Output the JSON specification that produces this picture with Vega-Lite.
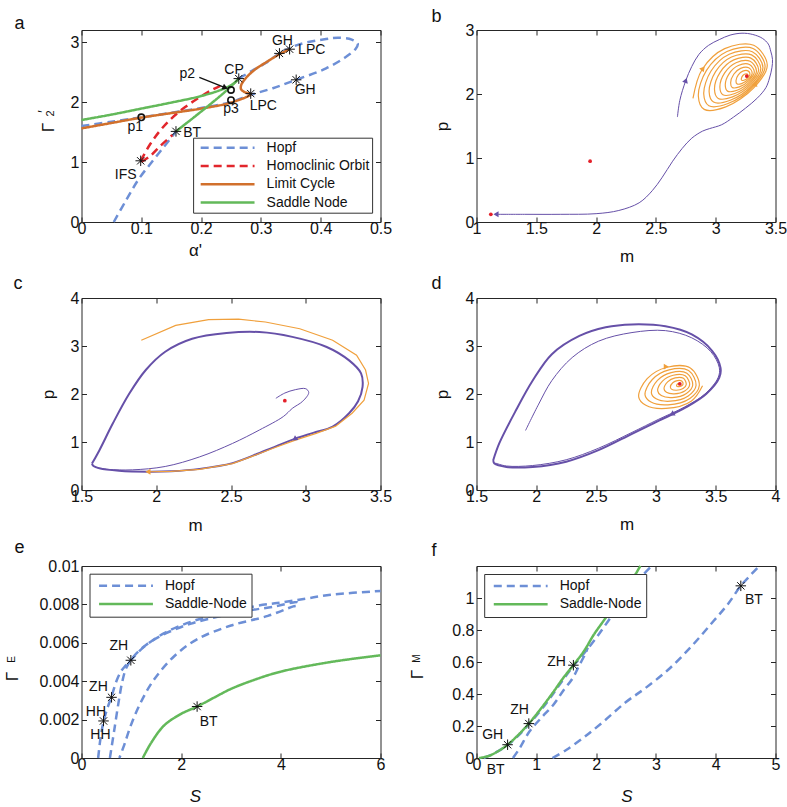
{
"$schema":"https://vega.github.io/schema/vega-lite/v6.json",
"background":"white",
"padding":{"left":2.5,"top":7,"right":2,"bottom":2},
"columns":2,
"spacing":{"row":76,"column":96},
"bounds":"flush",
"resolve":{"scale":{"x":"independent","y":"independent","color":"independent","strokeDash":"independent"},"axis":{"x":"independent","y":"independent"},"legend":{"color":"independent","strokeDash":"independent"}},
"config":{
 "font":"Liberation Sans",
 "view":{"stroke":"#262626","strokeWidth":1},
 "axis":{"grid":false,"domain":false,"ticks":true,"tickColor":"#262626","tickSize":-5,"tickWidth":1,"labelFont":"Liberation Sans","labelFontSize":16,"labelColor":"#111","titleFont":"Liberation Sans","titleFontSize":17,"titleFontWeight":"normal","titleColor":"#111","titleAlign":"center","titleBaseline":"middle","labelFlush":false,"labelOverlap":false},
 "axisBottom":{"labelPadding":3.5},
 "axisLeft":{"labelPadding":7.5},
 "legend":{"strokeColor":"#333","fillColor":"white","padding":2,"symbolType":"stroke","symbolSize":2900,"symbolStrokeWidth":2.5,"clipHeight":16,"rowPadding":2.3,"symbolOffset":4,"labelOffset":10.5,"labelFont":"Liberation Sans","labelFontSize":14,"labelColor":"#111","labelLimit":300},
 "title":{"fontSize":18,"fontWeight":"normal","anchor":"start","frame":"group","baseline":"alphabetic","color":"#111","font":"Liberation Sans"}
},
"concat":[
{
 "width":299,"height":192,
 "title":{"text":"a","dx":-67,"offset":-3.5},
 "encoding":{
  "x":{"field":"x","type":"quantitative","scale":{"domain":[0,0.5],"nice":false,"zero":false},"axis":null},
  "y":{"field":"y","type":"quantitative","scale":{"domain":[0,3.2],"nice":false,"zero":false},"axis":null}
 },
 "resolve":{"axis":{"x":"independent","y":"independent"}},
 "layer":[
  {"data":{"values":[
   {"x":0.054,"y":0,"s":"Hopf","g":"h1"},{"x":0.075,"y":0.37,"s":"Hopf","g":"h1"},{"x":0.096,"y":0.72,"s":"Hopf","g":"h1"},{"x":0.12,"y":1.03,"s":"Hopf","g":"h1"},{"x":0.14,"y":1.28,"s":"Hopf","g":"h1"},{"x":0.158,"y":1.51,"s":"Hopf","g":"h1"},
   {"x":0,"y":1.6,"s":"Hopf","g":"h2"},{"x":0.05,"y":1.67,"s":"Hopf","g":"h2"},{"x":0.1,"y":1.745,"s":"Hopf","g":"h2"},{"x":0.15,"y":1.82,"s":"Hopf","g":"h2"},{"x":0.2,"y":1.9,"s":"Hopf","g":"h2"},{"x":0.25,"y":2.0,"s":"Hopf","g":"h2"},{"x":0.283,"y":2.12,"s":"Hopf","g":"h2"},{"x":0.32,"y":2.23,"s":"Hopf","g":"h2"},{"x":0.359,"y":2.37,"s":"Hopf","g":"h2"},{"x":0.409,"y":2.56,"s":"Hopf","g":"h2"},{"x":0.442,"y":2.75,"s":"Hopf","g":"h2"},{"x":0.458,"y":2.88,"s":"Hopf","g":"h2"},{"x":0.462,"y":2.97,"s":"Hopf","g":"h2"},{"x":0.452,"y":3.04,"s":"Hopf","g":"h2"},{"x":0.43,"y":3.07,"s":"Hopf","g":"h2"},{"x":0.409,"y":3.05,"s":"Hopf","g":"h2"},{"x":0.364,"y":2.96,"s":"Hopf","g":"h2"},{"x":0.331,"y":2.81,"s":"Hopf","g":"h2"},{"x":0.308,"y":2.65,"s":"Hopf","g":"h2"},{"x":0.285,"y":2.52,"s":"Hopf","g":"h2"},{"x":0.263,"y":2.39,"s":"Hopf","g":"h2"},
   {"x":0.099,"y":1.02,"s":"Homoclinic Orbit","g":"r1"},{"x":0.115,"y":1.3,"s":"Homoclinic Orbit","g":"r1"},{"x":0.132,"y":1.53,"s":"Homoclinic Orbit","g":"r1"},{"x":0.152,"y":1.74,"s":"Homoclinic Orbit","g":"r1"},{"x":0.174,"y":1.92,"s":"Homoclinic Orbit","g":"r1"},{"x":0.196,"y":2.07,"s":"Homoclinic Orbit","g":"r1"},{"x":0.216,"y":2.19,"s":"Homoclinic Orbit","g":"r1"},{"x":0.232,"y":2.27,"s":"Homoclinic Orbit","g":"r1"},
   {"x":0.1,"y":1.0,"s":"Homoclinic Orbit","g":"r2"},{"x":0.115,"y":1.1,"s":"Homoclinic Orbit","g":"r2"},{"x":0.132,"y":1.27,"s":"Homoclinic Orbit","g":"r2"},{"x":0.152,"y":1.45,"s":"Homoclinic Orbit","g":"r2"},
   {"x":0,"y":1.56,"s":"Limit Cycle","g":"o"},{"x":0.05,"y":1.65,"s":"Limit Cycle","g":"o"},{"x":0.1,"y":1.74,"s":"Limit Cycle","g":"o"},{"x":0.15,"y":1.815,"s":"Limit Cycle","g":"o"},{"x":0.2,"y":1.89,"s":"Limit Cycle","g":"o"},{"x":0.25,"y":1.99,"s":"Limit Cycle","g":"o"},{"x":0.283,"y":2.13,"s":"Limit Cycle","g":"o"},{"x":0.274,"y":2.16,"s":"Limit Cycle","g":"o"},{"x":0.267,"y":2.21,"s":"Limit Cycle","g":"o"},{"x":0.267,"y":2.28,"s":"Limit Cycle","g":"o"},{"x":0.275,"y":2.4,"s":"Limit Cycle","g":"o"},{"x":0.29,"y":2.54,"s":"Limit Cycle","g":"o"},{"x":0.31,"y":2.67,"s":"Limit Cycle","g":"o"},{"x":0.33,"y":2.79,"s":"Limit Cycle","g":"o"},{"x":0.348,"y":2.88,"s":"Limit Cycle","g":"o"},
   {"x":0,"y":1.7,"s":"Saddle Node","g":"g1"},{"x":0.05,"y":1.79,"s":"Saddle Node","g":"g1"},{"x":0.1,"y":1.89,"s":"Saddle Node","g":"g1"},{"x":0.15,"y":1.99,"s":"Saddle Node","g":"g1"},{"x":0.2,"y":2.1,"s":"Saddle Node","g":"g1"},{"x":0.235,"y":2.21,"s":"Saddle Node","g":"g1"},{"x":0.255,"y":2.31,"s":"Saddle Node","g":"g1"},{"x":0.263,"y":2.39,"s":"Saddle Node","g":"g1"},
   {"x":0.263,"y":2.39,"s":"Saddle Node","g":"g2"},{"x":0.24,"y":2.17,"s":"Saddle Node","g":"g2"},{"x":0.2,"y":1.84,"s":"Saddle Node","g":"g2"},{"x":0.158,"y":1.51,"s":"Saddle Node","g":"g2"}
  ]},
   "mark":{"type":"line","strokeWidth":2.5,"interpolate":"catmull-rom"},
   "encoding":{
    "x":{"field":"x","type":"quantitative","scale":{"domain":[0,0.5],"nice":false,"zero":false},"axis":{"orient":"bottom","values":[0,0.1,0.2,0.3,0.4,0.5],"format":".1~f","title":"α'","titleX":113.5,"titleY":28}},
    "y":{"field":"y","type":"quantitative","scale":{"domain":[0,3.2],"nice":false,"zero":false},"axis":{"orient":"left","values":[0,1,2,3],"format":"d","title":"Γ","titleX":-33,"titleY":97,"titleAngle":270,"titleAlign":"center","titleBaseline":"middle"}},
    "color":{"field":"s","type":"nominal","scale":{"domain":["Hopf","Homoclinic Orbit","Limit Cycle","Saddle Node"],"range":["#6d8fd6","#e2262c","#d1702c","#63b95a"]},"legend":{"title":null,"orient":"none","legendX":111.6,"legendY":107.7}},
    "strokeDash":{"field":"s","type":"nominal","scale":{"domain":["Hopf","Homoclinic Orbit","Limit Cycle","Saddle Node"],"range":[[8,5],[8,5],[1,0],[1,0]]},"legend":{"title":null,"orient":"none","legendX":111.6,"legendY":107.7}},
    "detail":{"field":"g"},
    "order":{"value":null}
   }},
  {"data":{"values":[{"x":0.099,"y":1.02},{"x":0.158,"y":1.51},{"x":0.263,"y":2.39},{"x":0.283,"y":2.14},{"x":0.359,"y":2.37},{"x":0.331,"y":2.81},{"x":0.348,"y":2.88}]},
   "mark":{"type":"point","shape":"M-1,0L1,0M0,-1L0,1M-0.7,-0.7L0.7,0.7M-0.7,0.7L0.7,-0.7","filled":false,"color":"#111","strokeWidth":1,"size":110,"opacity":1},
   "encoding":{
    "x":{"field":"x","type":"quantitative","scale":{"domain":[0,0.5],"nice":false,"zero":false},"axis":{"orient":"top","values":[0,0.1,0.2,0.3,0.4,0.5],"labels":false,"title":"2","titleX":-31,"titleY":83,"titleAngle":270,"titleAlign":"center","titleBaseline":"middle","titleFontSize":11}},
    "y":{"field":"y","type":"quantitative","scale":{"domain":[0,3.2],"nice":false,"zero":false},"axis":{"orient":"right","values":[0,1,2,3],"labels":false,"title":"′","titleX":-337.5,"titleY":81,"titleAngle":270,"titleAlign":"center","titleBaseline":"middle","titleFontSize":14}}
   }},
  {"data":{"values":[{"x":0.1,"y":1.745},{"x":0.25,"y":2.2},{"x":0.25,"y":2.03}]},
   "mark":{"type":"point","shape":"circle","filled":false,"color":"#111","strokeWidth":1.6,"size":40,"opacity":1}},
  {"data":{"values":[{"x":0.197,"y":2.41,"x2":0.239,"y2":2.245}]},
   "mark":{"type":"rule","color":"#111","strokeWidth":1.3},
   "encoding":{"x2":{"field":"x2"},"y2":{"field":"y2"}}},
  {"data":{"values":[{"x":0.239,"y":2.245,"dir":113}]},
   "mark":{"type":"point","shape":"triangle","filled":true,"color":"#111","size":40,"opacity":1},
   "encoding":{"angle":{"field":"dir","type":"quantitative","scale":null}}},
  {"data":{"values":[{"x":0.074,"y":0.79,"t":"IFS"},{"x":0.185,"y":1.49,"t":"BT"},{"x":0.09,"y":1.58,"t":"p1"},{"x":0.177,"y":2.47,"t":"p2"},{"x":0.25,"y":1.88,"t":"p3"},{"x":0.255,"y":2.53,"t":"CP"},{"x":0.304,"y":1.94,"t":"LPC"},{"x":0.374,"y":2.2,"t":"GH"},{"x":0.336,"y":3.01,"t":"GH"},{"x":0.385,"y":2.86,"t":"LPC"}]},
   "mark":{"type":"text","fontSize":14,"font":"Liberation Sans","color":"#111"},
   "encoding":{"text":{"field":"t"}}}
 ]
},
{
 "width":299,"height":192,
 "title":{"text":"b","dx":-45,"offset":-3.5},
 "encoding":{
  "x":{"field":"x","type":"quantitative","scale":{"domain":[1,3.5],"nice":false,"zero":false},"axis":null},
  "y":{"field":"y","type":"quantitative","scale":{"domain":[0,3],"nice":false,"zero":false},"axis":null}
 },
 "resolve":{"axis":{"x":"independent","y":"independent"}},
 "layer":[
  {"data":{"values":[
   {"x":2.68,"y":1.64},{"x":2.7,"y":1.9},{"x":2.748,"y":2.2},{"x":2.8,"y":2.43},{"x":2.86,"y":2.62},{"x":2.94,"y":2.76},{"x":3.03,"y":2.85},{"x":3.12,"y":2.92},{"x":3.22,"y":2.95},{"x":3.31,"y":2.93},{"x":3.39,"y":2.87},{"x":3.44,"y":2.78},{"x":3.46,"y":2.67},{"x":3.475,"y":2.54},{"x":3.47,"y":2.41},{"x":3.45,"y":2.25},{"x":3.42,"y":2.1},{"x":3.35,"y":1.94},{"x":3.25,"y":1.78},{"x":3.15,"y":1.64},{"x":3.05,"y":1.52},{"x":2.95,"y":1.46},{"x":2.89,"y":1.42},{"x":2.8,"y":1.31},{"x":2.72,"y":1.15},{"x":2.64,"y":0.95},{"x":2.55,"y":0.69},{"x":2.47,"y":0.49},{"x":2.36,"y":0.3},{"x":2.19,"y":0.18},{"x":2.0,"y":0.13},{"x":1.7,"y":0.12},{"x":1.4,"y":0.12},{"x":1.16,"y":0.12}
  ]},
   "mark":{"type":"line","strokeWidth":1,"color":"#6650a8","interpolate":"catmull-rom"},
   "encoding":{
    "x":{"field":"x","type":"quantitative","scale":{"domain":[1,3.5],"nice":false,"zero":false},"axis":{"orient":"bottom","values":[1,1.5,2,2.5,3,3.5],"format":".1~f","title":"m","titleX":150,"titleY":34}},
    "y":{"field":"y","type":"quantitative","scale":{"domain":[0,3],"nice":false,"zero":false},"axis":{"orient":"left","values":[0,1,2,3],"format":"d","title":"p","titleX":-34,"titleY":96,"titleAngle":270,"titleAlign":"center","titleBaseline":"middle"}},
    "order":{"value":null}
   }},
  {"data":{"values":[
   {"x":2.81,"y":1.93},{"x":2.885,"y":2.379},{"x":3.075,"y":2.709},{"x":3.318,"y":2.761},{"x":3.431,"y":2.451},{"x":3.316,"y":2.093},{"x":3.084,"y":1.799},{"x":2.904,"y":1.76},
   {"x":2.855,"y":1.965},{"x":2.923,"y":2.369},{"x":3.094,"y":2.665},{"x":3.312,"y":2.711},{"x":3.413,"y":2.433},{"x":3.31,"y":2.113},{"x":3.103,"y":1.851},{"x":2.943,"y":1.817},
   {"x":2.9,"y":2.0},{"x":2.961,"y":2.359},{"x":3.113,"y":2.621},{"x":3.306,"y":2.661},{"x":3.395,"y":2.415},{"x":3.304,"y":2.133},{"x":3.122,"y":1.903},{"x":2.982,"y":1.874},
   {"x":2.945,"y":2.035},{"x":2.999,"y":2.349},{"x":3.132,"y":2.577},{"x":3.3,"y":2.611},{"x":3.377,"y":2.397},{"x":3.298,"y":2.153},{"x":3.141,"y":1.955},{"x":3.021,"y":1.931},
   {"x":2.99,"y":2.07},{"x":3.037,"y":2.339},{"x":3.151,"y":2.533},{"x":3.294,"y":2.561},{"x":3.359,"y":2.379},{"x":3.292,"y":2.173},{"x":3.16,"y":2.007},{"x":3.06,"y":1.988},
   {"x":3.035,"y":2.105},{"x":3.075,"y":2.329},{"x":3.17,"y":2.489},{"x":3.288,"y":2.511},{"x":3.341,"y":2.361},{"x":3.286,"y":2.193},{"x":3.179,"y":2.059},{"x":3.099,"y":2.045},
   {"x":3.08,"y":2.14},{"x":3.113,"y":2.319},{"x":3.189,"y":2.445},{"x":3.282,"y":2.461},{"x":3.323,"y":2.343},{"x":3.28,"y":2.213},{"x":3.198,"y":2.111},{"x":3.138,"y":2.102},
   {"x":3.125,"y":2.175},{"x":3.151,"y":2.309},{"x":3.208,"y":2.401},{"x":3.276,"y":2.411},{"x":3.305,"y":2.325},{"x":3.274,"y":2.233},{"x":3.217,"y":2.163},{"x":3.177,"y":2.159},
   {"x":3.17,"y":2.21},{"x":3.189,"y":2.299},{"x":3.227,"y":2.357},{"x":3.27,"y":2.361},{"x":3.287,"y":2.307},{"x":3.268,"y":2.253},{"x":3.236,"y":2.215},{"x":3.216,"y":2.216},
   {"x":3.215,"y":2.245},{"x":3.227,"y":2.289},{"x":3.246,"y":2.313},{"x":3.264,"y":2.311},{"x":3.269,"y":2.289},{"x":3.262,"y":2.273},{"x":3.255,"y":2.267},{"x":3.255,"y":2.273},
   {"x":3.26,"y":2.28}
  ]},
   "mark":{"type":"line","strokeWidth":1.2,"color":"#f0a03c","interpolate":"catmull-rom"},
   "encoding":{
    "x":{"field":"x","type":"quantitative","scale":{"domain":[1,3.5],"nice":false,"zero":false},"axis":{"orient":"top","values":[1,1.5,2,2.5,3,3.5],"labels":false,"title":null}},
    "y":{"field":"y","type":"quantitative","scale":{"domain":[0,3],"nice":false,"zero":false},"axis":{"orient":"right","values":[0,1,2,3],"labels":false,"title":null}},
    "order":{"value":null}
   }},
  {"data":{"values":[{"x":1.12,"y":0.12},{"x":1.95,"y":0.95},{"x":3.26,"y":2.28}]},
   "mark":{"type":"point","filled":true,"color":"#e4202a","size":14,"opacity":1}},
  {"data":{"values":[{"x":2.748,"y":2.2,"dir":20},{"x":1.17,"y":0.12,"dir":270}]},
   "mark":{"type":"point","shape":"triangle","filled":true,"color":"#6650a8","size":35,"opacity":1},
   "encoding":{"angle":{"field":"dir","type":"quantitative","scale":null}}},
  {"data":{"values":[{"x":2.89,"y":2.39,"dir":40},{"x":3.33,"y":2.15,"dir":140}]},
   "mark":{"type":"point","shape":"triangle","filled":true,"color":"#f0a03c","size":35,"opacity":1},
   "encoding":{"angle":{"field":"dir","type":"quantitative","scale":null}}}
 ]
},
{
 "width":299,"height":192,
 "title":{"text":"c","dx":-68,"offset":-3},
 "encoding":{
  "x":{"field":"x","type":"quantitative","scale":{"domain":[1.5,3.5],"nice":false,"zero":false},"axis":null},
  "y":{"field":"y","type":"quantitative","scale":{"domain":[0,4],"nice":false,"zero":false},"axis":null}
 },
 "resolve":{"axis":{"x":"independent","y":"independent"}},
 "layer":[
  {"data":{"values":[
   {"x":1.57,"y":0.55},{"x":1.62,"y":0.83},{"x":1.71,"y":1.39},{"x":1.82,"y":2.01},{"x":1.93,"y":2.5},{"x":2.06,"y":2.88},{"x":2.24,"y":3.15},{"x":2.47,"y":3.27},{"x":2.69,"y":3.29},{"x":2.91,"y":3.19},{"x":3.14,"y":2.98},{"x":3.29,"y":2.7},{"x":3.37,"y":2.43},{"x":3.38,"y":2.15},{"x":3.35,"y":1.85},{"x":3.29,"y":1.6},{"x":3.18,"y":1.32},{"x":3.05,"y":1.19},{"x":2.93,"y":1.07},{"x":2.8,"y":0.91},{"x":2.65,"y":0.72},{"x":2.51,"y":0.56},{"x":2.29,"y":0.44},{"x":2.1,"y":0.39},{"x":1.95,"y":0.38},{"x":1.75,"y":0.4},{"x":1.62,"y":0.45},{"x":1.58,"y":0.5},{"x":1.57,"y":0.55}
  ]},
   "mark":{"type":"line","strokeWidth":2,"color":"#6650a8","interpolate":"catmull-rom"},
   "encoding":{
    "x":{"field":"x","type":"quantitative","scale":{"domain":[1.5,3.5],"nice":false,"zero":false},"axis":{"orient":"bottom","values":[1.5,2,2.5,3,3.5],"format":".1~f","title":"m","titleX":113.5,"titleY":35}},
    "y":{"field":"y","type":"quantitative","scale":{"domain":[0,4],"nice":false,"zero":false},"axis":{"orient":"left","values":[0,1,2,3,4],"format":"d","title":"p","titleX":-33,"titleY":96,"titleAngle":270,"titleAlign":"center","titleBaseline":"middle"}},
    "order":{"value":null}
   }},
  {"data":{"values":[
   {"x":2.8,"y":1.91},{"x":2.86,"y":2.02},{"x":2.93,"y":2.09},{"x":3.0,"y":2.11},{"x":3.02,"y":2.03},{"x":2.98,"y":1.85},{"x":2.91,"y":1.7},{"x":2.85,"y":1.53},{"x":2.69,"y":1.25},{"x":2.51,"y":0.97},{"x":2.29,"y":0.69},{"x":2.06,"y":0.49},{"x":1.84,"y":0.42},{"x":1.68,"y":0.43},{"x":1.6,"y":0.47}
  ]},
   "mark":{"type":"line","strokeWidth":1,"color":"#6650a8","interpolate":"catmull-rom"},
   "encoding":{
    "x":{"field":"x","type":"quantitative","scale":{"domain":[1.5,3.5],"nice":false,"zero":false},"axis":{"orient":"top","values":[1.5,2,2.5,3,3.5],"labels":false,"title":null}},
    "y":{"field":"y","type":"quantitative","scale":{"domain":[0,4],"nice":false,"zero":false},"axis":{"orient":"right","values":[0,1,2,3,4],"labels":false,"title":null}},
    "order":{"value":null}
   }},
  {"data":{"values":[
   {"x":1.9,"y":3.12},{"x":2.13,"y":3.43},{"x":2.35,"y":3.55},{"x":2.55,"y":3.56},{"x":2.73,"y":3.5},{"x":2.96,"y":3.36},{"x":3.18,"y":3.12},{"x":3.34,"y":2.81},{"x":3.4,"y":2.5},{"x":3.42,"y":2.22},{"x":3.39,"y":1.87},{"x":3.31,"y":1.6},{"x":3.2,"y":1.33},{"x":3.07,"y":1.18},{"x":2.94,"y":1.05},{"x":2.8,"y":0.89},{"x":2.65,"y":0.71},{"x":2.51,"y":0.55},{"x":2.29,"y":0.43},{"x":2.1,"y":0.39},{"x":1.95,"y":0.38}
  ]},
   "mark":{"type":"line","strokeWidth":1.2,"color":"#f0a03c"},
   "encoding":{"order":{"value":null}}},
  {"data":{"values":[{"x":2.86,"y":1.86}]},
   "mark":{"type":"point","filled":true,"color":"#e4202a","size":14,"opacity":1}},
  {"data":{"values":[{"x":2.93,"y":1.07,"dir":235}]},
   "mark":{"type":"point","shape":"triangle","filled":true,"color":"#6650a8","size":35,"opacity":1},
   "encoding":{"angle":{"field":"dir","type":"quantitative","scale":null}}},
  {"data":{"values":[{"x":1.95,"y":0.38,"dir":270}]},
   "mark":{"type":"point","shape":"triangle","filled":true,"color":"#f0a03c","size":35,"opacity":1},
   "encoding":{"angle":{"field":"dir","type":"quantitative","scale":null}}}
 ]
},
{
 "width":299,"height":192,
 "title":{"text":"d","dx":-45,"offset":-3},
 "encoding":{
  "x":{"field":"x","type":"quantitative","scale":{"domain":[1.5,4],"nice":false,"zero":false},"axis":null},
  "y":{"field":"y","type":"quantitative","scale":{"domain":[0,4],"nice":false,"zero":false},"axis":null}
 },
 "resolve":{"axis":{"x":"independent","y":"independent"}},
 "layer":[
  {"data":{"values":[
   {"x":1.64,"y":0.62},{"x":1.69,"y":0.97},{"x":1.83,"y":1.66},{"x":1.97,"y":2.28},{"x":2.13,"y":2.83},{"x":2.36,"y":3.21},{"x":2.58,"y":3.39},{"x":2.8,"y":3.45},{"x":3.08,"y":3.41},{"x":3.3,"y":3.24},{"x":3.47,"y":2.9},{"x":3.54,"y":2.55},{"x":3.53,"y":2.34},{"x":3.42,"y":2.0},{"x":3.25,"y":1.72},{"x":3.03,"y":1.45},{"x":2.8,"y":1.17},{"x":2.52,"y":0.83},{"x":2.25,"y":0.59},{"x":1.97,"y":0.48},{"x":1.75,"y":0.48},{"x":1.65,"y":0.55},{"x":1.64,"y":0.62}
  ]},
   "mark":{"type":"line","strokeWidth":2,"color":"#6650a8","interpolate":"catmull-rom"},
   "encoding":{
    "x":{"field":"x","type":"quantitative","scale":{"domain":[1.5,4],"nice":false,"zero":false},"axis":{"orient":"bottom","values":[1.5,2,2.5,3,3.5,4],"format":".1~f","title":"m","titleX":150,"titleY":34}},
    "y":{"field":"y","type":"quantitative","scale":{"domain":[0,4],"nice":false,"zero":false},"axis":{"orient":"left","values":[0,1,2,3,4],"format":"d","title":"p","titleX":-34,"titleY":96,"titleAngle":270,"titleAlign":"center","titleBaseline":"middle"}},
    "order":{"value":null}
   }},
  {"data":{"values":[
   {"x":1.91,"y":1.24},{"x":2.02,"y":1.79},{"x":2.13,"y":2.28},{"x":2.3,"y":2.76},{"x":2.52,"y":3.1},{"x":2.8,"y":3.28},{"x":3.08,"y":3.32},{"x":3.3,"y":3.17},{"x":3.46,"y":2.88},{"x":3.53,"y":2.55},{"x":3.52,"y":2.34},{"x":3.41,"y":2.0},{"x":3.24,"y":1.73},{"x":3.02,"y":1.47},{"x":2.8,"y":1.2},{"x":2.52,"y":0.87},{"x":2.25,"y":0.63},{"x":1.97,"y":0.51},{"x":1.75,"y":0.5},{"x":1.66,"y":0.56}
  ]},
   "mark":{"type":"line","strokeWidth":1,"color":"#6650a8","interpolate":"catmull-rom"},
   "encoding":{
    "x":{"field":"x","type":"quantitative","scale":{"domain":[1.5,4],"nice":false,"zero":false},"axis":{"orient":"top","values":[1.5,2,2.5,3,3.5,4],"labels":false,"title":null}},
    "y":{"field":"y","type":"quantitative","scale":{"domain":[0,4],"nice":false,"zero":false},"axis":{"orient":"right","values":[0,1,2,3,4],"labels":false,"title":null}},
    "order":{"value":null}
   }},
  {"data":{"values":[
   {"x":3.39,"y":2.17},{"x":3.298,"y":1.856},{"x":3.084,"y":1.699},{"x":2.916,"y":1.765},{"x":2.856,"y":1.941},{"x":2.927,"y":2.319},{"x":3.093,"y":2.558},{"x":3.288,"y":2.543},
   {"x":3.363,"y":2.176},{"x":3.284,"y":1.908},{"x":3.101,"y":1.775},{"x":2.959,"y":1.832},{"x":2.909,"y":1.982},{"x":2.97,"y":2.302},{"x":3.11,"y":2.503},{"x":3.273,"y":2.488},
   {"x":3.336,"y":2.181},{"x":3.27,"y":1.959},{"x":3.119,"y":1.85},{"x":3.002,"y":1.899},{"x":2.962,"y":2.024},{"x":3.013,"y":2.285},{"x":3.127,"y":2.447},{"x":3.259,"y":2.434},
   {"x":3.308,"y":2.187},{"x":3.255,"y":2.011},{"x":3.136,"y":1.926},{"x":3.045,"y":1.967},{"x":3.015,"y":2.065},{"x":3.055,"y":2.268},{"x":3.144,"y":2.391},{"x":3.245,"y":2.379},
   {"x":3.282,"y":2.193},{"x":3.241,"y":2.062},{"x":3.153,"y":2.002},{"x":3.088,"y":2.034},{"x":3.068,"y":2.106},{"x":3.098,"y":2.251},{"x":3.161,"y":2.335},{"x":3.23,"y":2.326},
   {"x":3.254,"y":2.199},{"x":3.227,"y":2.114},{"x":3.17,"y":2.078},{"x":3.13,"y":2.101},{"x":3.121,"y":2.148},{"x":3.141,"y":2.234},{"x":3.179,"y":2.28},{"x":3.216,"y":2.271},
   {"x":3.227,"y":2.204},{"x":3.213,"y":2.165},{"x":3.187,"y":2.153},{"x":3.173,"y":2.168},{"x":3.174,"y":2.189},{"x":3.184,"y":2.216},{"x":3.196,"y":2.224},{"x":3.202,"y":2.217},
   {"x":3.2,"y":2.21}
  ]},
   "mark":{"type":"line","strokeWidth":1.2,"color":"#f0a03c","interpolate":"catmull-rom"},
   "encoding":{"order":{"value":null}}},
  {"data":{"values":[{"x":3.2,"y":2.21}]},
   "mark":{"type":"point","filled":true,"color":"#e4202a","size":14,"opacity":1}},
  {"data":{"values":[{"x":3.14,"y":1.59,"dir":240}]},
   "mark":{"type":"point","shape":"triangle","filled":true,"color":"#6650a8","size":35,"opacity":1},
   "encoding":{"angle":{"field":"dir","type":"quantitative","scale":null}}},
  {"data":{"values":[{"x":3.08,"y":2.57,"dir":90}]},
   "mark":{"type":"point","shape":"triangle","filled":true,"color":"#f0a03c","size":35,"opacity":1},
   "encoding":{"angle":{"field":"dir","type":"quantitative","scale":null}}}
 ]
},
{
 "width":299,"height":192,
 "title":{"text":"e","dx":-67,"offset":1},
 "encoding":{
  "x":{"field":"x","type":"quantitative","scale":{"domain":[0,6],"nice":false,"zero":false},"axis":null},
  "y":{"field":"y","type":"quantitative","scale":{"domain":[0,0.01],"nice":false,"zero":false},"axis":null}
 },
 "resolve":{"axis":{"x":"independent","y":"independent"}},
 "layer":[
  {"data":{"values":[
   {"x":0.334,"y":0,"s":"Hopf","g":"A"},{"x":0.38,"y":0.001,"s":"Hopf","g":"A"},{"x":0.442,"y":0.0019,"s":"Hopf","g":"A"},{"x":0.52,"y":0.0026,"s":"Hopf","g":"A"},{"x":0.603,"y":0.0032,"s":"Hopf","g":"A"},{"x":0.7,"y":0.004,"s":"Hopf","g":"A"},{"x":0.79,"y":0.0045,"s":"Hopf","g":"A"},{"x":0.88,"y":0.0048,"s":"Hopf","g":"A"},{"x":0.99,"y":0.0051,"s":"Hopf","g":"A"},{"x":1.26,"y":0.0058,"s":"Hopf","g":"A"},{"x":1.66,"y":0.0065,"s":"Hopf","g":"A"},{"x":2.2,"y":0.0071,"s":"Hopf","g":"A"},{"x":2.8,"y":0.0075,"s":"Hopf","g":"A"},{"x":3.47,"y":0.0079,"s":"Hopf","g":"A"},{"x":4.0,"y":0.0081,"s":"Hopf","g":"A"},{"x":4.5,"y":0.0083,"s":"Hopf","g":"A"},{"x":5.0,"y":0.0085,"s":"Hopf","g":"A"},{"x":6.0,"y":0.0087,"s":"Hopf","g":"A"},
   {"x":0.57,"y":0,"s":"Hopf","g":"B"},{"x":0.66,"y":0.0015,"s":"Hopf","g":"B"},{"x":0.75,"y":0.003,"s":"Hopf","g":"B"},{"x":0.82,"y":0.004,"s":"Hopf","g":"B"},{"x":0.9,"y":0.0047,"s":"Hopf","g":"B"},{"x":1.05,"y":0.0053,"s":"Hopf","g":"B"},{"x":1.3,"y":0.0059,"s":"Hopf","g":"B"},{"x":1.7,"y":0.0065,"s":"Hopf","g":"B"},{"x":2.2,"y":0.007,"s":"Hopf","g":"B"},{"x":2.8,"y":0.0074,"s":"Hopf","g":"B"},{"x":3.4,"y":0.0077,"s":"Hopf","g":"B"},{"x":3.9,"y":0.0079,"s":"Hopf","g":"B"},{"x":4.25,"y":0.0081,"s":"Hopf","g":"B"},{"x":4.34,"y":0.0081,"s":"Hopf","g":"B"},{"x":4.33,"y":0.00795,"s":"Hopf","g":"B"},{"x":4.25,"y":0.0079,"s":"Hopf","g":"B"},{"x":3.74,"y":0.0074,"s":"Hopf","g":"B"},{"x":3.0,"y":0.0069,"s":"Hopf","g":"B"},{"x":2.33,"y":0.0062,"s":"Hopf","g":"B"},{"x":1.86,"y":0.0053,"s":"Hopf","g":"B"},{"x":1.46,"y":0.0041,"s":"Hopf","g":"B"},{"x":1.19,"y":0.0029,"s":"Hopf","g":"B"},{"x":0.99,"y":0.0017,"s":"Hopf","g":"B"},{"x":0.86,"y":0.0007,"s":"Hopf","g":"B"},{"x":0.76,"y":0,"s":"Hopf","g":"B"},
   {"x":1.23,"y":0,"s":"Saddle-Node","g":"S"},{"x":1.4,"y":0.0008,"s":"Saddle-Node","g":"S"},{"x":1.66,"y":0.0017,"s":"Saddle-Node","g":"S"},{"x":2.0,"y":0.0023,"s":"Saddle-Node","g":"S"},{"x":2.32,"y":0.00268,"s":"Saddle-Node","g":"S"},{"x":2.7,"y":0.0032,"s":"Saddle-Node","g":"S"},{"x":3.0,"y":0.0036,"s":"Saddle-Node","g":"S"},{"x":3.5,"y":0.0041,"s":"Saddle-Node","g":"S"},{"x":4.0,"y":0.0045,"s":"Saddle-Node","g":"S"},{"x":5.0,"y":0.005,"s":"Saddle-Node","g":"S"},{"x":6.0,"y":0.00535,"s":"Saddle-Node","g":"S"}
  ]},
   "mark":{"type":"line","strokeWidth":2.5,"interpolate":"catmull-rom"},
   "encoding":{
    "x":{"field":"x","type":"quantitative","scale":{"domain":[0,6],"nice":false,"zero":false},"axis":{"orient":"bottom","values":[0,2,4,6],"format":"d","title":"S","titleFontStyle":"italic","titleX":113.5,"titleY":38}},
    "y":{"field":"y","type":"quantitative","scale":{"domain":[0,0.01],"nice":false,"zero":false},"axis":{"orient":"left","values":[0,0.002,0.004,0.006,0.008,0.01],"format":".3~f","title":"Γ","titleX":-69,"titleY":110,"titleAngle":270,"titleAlign":"center","titleBaseline":"middle"}},
    "color":{"field":"s","type":"nominal","scale":{"domain":["Hopf","Saddle-Node"],"range":["#6d8fd6","#63b95a"]},"legend":{"title":null,"orient":"none","legendX":8,"legendY":7.7,"padding":4}},
    "strokeDash":{"field":"s","type":"nominal","scale":{"domain":["Hopf","Saddle-Node"],"range":[[8,5],[1,0]]},"legend":{"title":null,"orient":"none","legendX":8,"legendY":7.7,"padding":4}},
    "detail":{"field":"g"},
    "order":{"value":null}
   }},
  {"data":{"values":[{"x":0.442,"y":0.00193},{"x":0.603,"y":0.00316},{"x":0.99,"y":0.00509},{"x":2.32,"y":0.00268}]},
   "mark":{"type":"point","shape":"M-1,0L1,0M0,-1L0,1M-0.7,-0.7L0.7,0.7M-0.7,0.7L0.7,-0.7","filled":false,"color":"#111","strokeWidth":1,"size":110,"opacity":1},
   "encoding":{
    "x":{"field":"x","type":"quantitative","scale":{"domain":[0,6],"nice":false,"zero":false},"axis":{"orient":"top","values":[0,2,4,6],"labels":false,"title":"E","titleX":-70,"titleY":93,"titleAngle":270,"titleAlign":"center","titleBaseline":"middle","titleFontSize":10}},
    "y":{"field":"y","type":"quantitative","scale":{"domain":[0,0.01],"nice":false,"zero":false},"axis":{"orient":"right","values":[0,0.002,0.004,0.006,0.008,0.01],"labels":false,"title":null}}
   }},
  {"data":{"values":[{"x":0.75,"y":0.00582,"t":"ZH"},{"x":0.34,"y":0.0037,"t":"ZH"},{"x":0.29,"y":0.0024,"t":"HH"},{"x":0.38,"y":0.0012,"t":"HH"},{"x":2.55,"y":0.0019,"t":"BT"}]},
   "mark":{"type":"text","fontSize":14,"font":"Liberation Sans","color":"#111"},
   "encoding":{"text":{"field":"t"}}}
 ]
},
{
 "width":299,"height":192,
 "title":{"text":"f","dx":-45,"offset":1},
 "encoding":{
  "x":{"field":"x","type":"quantitative","scale":{"domain":[0,5],"nice":false,"zero":false},"axis":null},
  "y":{"field":"y","type":"quantitative","scale":{"domain":[0,1.2],"nice":false,"zero":false},"axis":null}
 },
 "resolve":{"axis":{"x":"independent","y":"independent"}},
 "layer":[
  {"data":{"values":[
   {"x":0.12,"y":0,"s":"Hopf","g":"H1"},{"x":0.3,"y":0.03,"s":"Hopf","g":"H1"},{"x":0.52,"y":0.08,"s":"Hopf","g":"H1"},{"x":0.7,"y":0.14,"s":"Hopf","g":"H1"},{"x":0.875,"y":0.21,"s":"Hopf","g":"H1"},{"x":1.08,"y":0.3,"s":"Hopf","g":"H1"},{"x":1.28,"y":0.4,"s":"Hopf","g":"H1"},{"x":1.45,"y":0.49,"s":"Hopf","g":"H1"},{"x":1.62,"y":0.575,"s":"Hopf","g":"H1"},{"x":1.8,"y":0.655,"s":"Hopf","g":"H1"},{"x":2.0,"y":0.75,"s":"Hopf","g":"H1"},{"x":2.2,"y":0.855,"s":"Hopf","g":"H1"},{"x":2.4,"y":0.96,"s":"Hopf","g":"H1"},{"x":2.6,"y":1.06,"s":"Hopf","g":"H1"},{"x":2.8,"y":1.15,"s":"Hopf","g":"H1"},{"x":2.93,"y":1.2,"s":"Hopf","g":"H1"},
   {"x":0.61,"y":0,"s":"Hopf","g":"H2"},{"x":0.72,"y":0.06,"s":"Hopf","g":"H2"},{"x":0.885,"y":0.165,"s":"Hopf","g":"H2"},{"x":1.08,"y":0.25,"s":"Hopf","g":"H2"},{"x":1.28,"y":0.33,"s":"Hopf","g":"H2"},{"x":1.45,"y":0.42,"s":"Hopf","g":"H2"},{"x":1.61,"y":0.5,"s":"Hopf","g":"H2"},{"x":1.72,"y":0.58,"s":"Hopf","g":"H2"},{"x":1.83,"y":0.66,"s":"Hopf","g":"H2"},{"x":1.86,"y":0.69,"s":"Hopf","g":"H2"},
   {"x":1.27,"y":0,"s":"Hopf","g":"H4"},{"x":1.5,"y":0.05,"s":"Hopf","g":"H4"},{"x":1.8,"y":0.13,"s":"Hopf","g":"H4"},{"x":2.13,"y":0.23,"s":"Hopf","g":"H4"},{"x":2.5,"y":0.35,"s":"Hopf","g":"H4"},{"x":2.8,"y":0.43,"s":"Hopf","g":"H4"},{"x":3.2,"y":0.55,"s":"Hopf","g":"H4"},{"x":3.6,"y":0.7,"s":"Hopf","g":"H4"},{"x":3.95,"y":0.85,"s":"Hopf","g":"H4"},{"x":4.2,"y":0.96,"s":"Hopf","g":"H4"},{"x":4.42,"y":1.076,"s":"Hopf","g":"H4"},{"x":4.6,"y":1.15,"s":"Hopf","g":"H4"},{"x":4.73,"y":1.2,"s":"Hopf","g":"H4"},
   {"x":0.04,"y":0,"s":"Saddle-Node","g":"S"},{"x":0.2,"y":0.012,"s":"Saddle-Node","g":"S"},{"x":0.35,"y":0.04,"s":"Saddle-Node","g":"S"},{"x":0.52,"y":0.083,"s":"Saddle-Node","g":"S"},{"x":0.7,"y":0.145,"s":"Saddle-Node","g":"S"},{"x":0.875,"y":0.215,"s":"Saddle-Node","g":"S"},{"x":1.08,"y":0.31,"s":"Saddle-Node","g":"S"},{"x":1.28,"y":0.41,"s":"Saddle-Node","g":"S"},{"x":1.45,"y":0.5,"s":"Saddle-Node","g":"S"},{"x":1.62,"y":0.58,"s":"Saddle-Node","g":"S"},{"x":1.8,"y":0.67,"s":"Saddle-Node","g":"S"},{"x":1.96,"y":0.77,"s":"Saddle-Node","g":"S"},{"x":2.13,"y":0.86,"s":"Saddle-Node","g":"S"},{"x":2.3,"y":0.95,"s":"Saddle-Node","g":"S"},{"x":2.45,"y":1.03,"s":"Saddle-Node","g":"S"},{"x":2.58,"y":1.1,"s":"Saddle-Node","g":"S"},{"x":2.74,"y":1.2,"s":"Saddle-Node","g":"S"}
  ]},
   "mark":{"type":"line","strokeWidth":2.5,"interpolate":"catmull-rom"},
   "encoding":{
    "x":{"field":"x","type":"quantitative","scale":{"domain":[0,5],"nice":false,"zero":false},"axis":{"orient":"bottom","values":[0,1,2,3,4,5],"format":"d","title":"S","titleFontStyle":"italic","titleX":150,"titleY":38}},
    "y":{"field":"y","type":"quantitative","scale":{"domain":[0,1.2],"nice":false,"zero":false},"axis":{"orient":"left","values":[0,0.2,0.4,0.6,0.8,1],"format":".1~f","title":"Γ","titleX":-59,"titleY":108,"titleAngle":270,"titleAlign":"center","titleBaseline":"middle"}},
    "color":{"field":"s","type":"nominal","scale":{"domain":["Hopf","Saddle-Node"],"range":["#6d8fd6","#63b95a"]},"legend":{"title":null,"orient":"none","legendX":7.7,"legendY":8,"padding":4}},
    "strokeDash":{"field":"s","type":"nominal","scale":{"domain":["Hopf","Saddle-Node"],"range":[[8,5],[1,0]]},"legend":{"title":null,"orient":"none","legendX":7.7,"legendY":8,"padding":4}},
    "detail":{"field":"g"},
    "order":{"value":null}
   }},
  {"data":{"values":[{"x":0.52,"y":0.083},{"x":0.875,"y":0.215},{"x":1.62,"y":0.58},{"x":4.42,"y":1.076}]},
   "mark":{"type":"point","shape":"M-1,0L1,0M0,-1L0,1M-0.7,-0.7L0.7,0.7M-0.7,0.7L0.7,-0.7","filled":false,"color":"#111","strokeWidth":1,"size":110,"opacity":1},
   "encoding":{
    "x":{"field":"x","type":"quantitative","scale":{"domain":[0,5],"nice":false,"zero":false},"axis":{"orient":"top","values":[0,1,2,3,4,5],"labels":false,"title":"M","titleX":-60,"titleY":92,"titleAngle":270,"titleAlign":"center","titleBaseline":"middle","titleFontSize":10}},
    "y":{"field":"y","type":"quantitative","scale":{"domain":[0,1.2],"nice":false,"zero":false},"axis":{"orient":"right","values":[0,0.2,0.4,0.6,0.8,1],"labels":false,"title":null}}
   }},
  {"data":{"values":[{"x":0.27,"y":0.145,"t":"GH"},{"x":0.72,"y":0.3,"t":"ZH"},{"x":1.34,"y":0.6,"t":"ZH"},{"x":4.64,"y":0.99,"t":"BT"},{"x":0.32,"y":-0.072,"t":"BT"}]},
   "mark":{"type":"text","fontSize":14,"font":"Liberation Sans","color":"#111"},
   "encoding":{"text":{"field":"t"}}}
 ]
}
]
}
